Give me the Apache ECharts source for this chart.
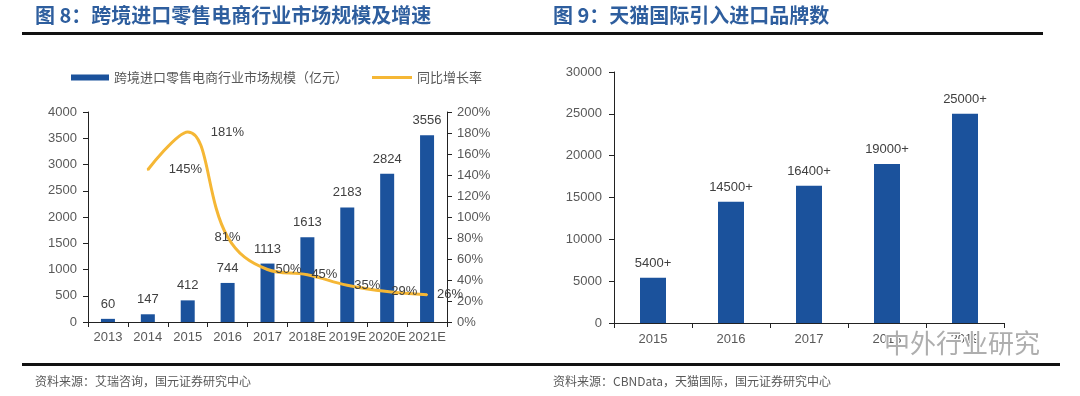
<!DOCTYPE html>
<html>
<head>
<meta charset="utf-8">
<script src="https://cdn.jsdelivr.net/npm/echarts@6/dist/echarts.min.js"></script>
<style>
  html, body { margin: 0; padding: 0; background: #fff; }
  #main { width: 1080px; height: 396px; }
</style>
</head>
<body>
<div id="main"></div>
<script>
// 图8 数据
const marketYears = ['2013', '2014', '2015', '2016', '2017', '2018E', '2019E', '2020E', '2021E'];
const marketSize = [60, 147, 412, 744, 1113, 1613, 2183, 2824, 3556];
const growthRate = [null, 145, 181, 81, 50, 45, 35, 29, 26];
// 图9 数据
const brandYears = ['2015', '2016', '2017', '2018', '2019'];
const brandCount = [5400, 14500, 16400, 19000, 25000];

const blue = '#1B529C';
const gold = '#F5B735';
const titleBlue = '#2E5E9E';
const grey = '#595959';
const numFont = '"Liberation Sans", Arial, sans-serif';
const cjkFont = '"Noto Sans CJK SC", sans-serif';

// 增长率标签与数据点的间距（样式，非数据）
const rateLabelGap = [0, 20, 22, 0, 7, 3, 6, 3, 9];

const myChart = echarts.init(document.getElementById('main'));

const axisLine = { show: true, lineStyle: { color: '#222', width: 1 } };
const axisTick = { show: true, length: 5, lineStyle: { color: '#222' } };
const axisLabel = { color: grey, fontSize: 13, fontFamily: numFont };
const plain = function (v) { return String(v); };

const option = {
  animation: false,
  backgroundColor: '#fff',
  legend: [
    {
      left: 66,
      top: 66,
      itemWidth: 38,
      itemHeight: 6,
      textStyle: { color: grey, fontSize: 13, fontFamily: cjkFont },
      data: [{ name: '跨境进口零售电商行业市场规模（亿元）', icon: 'rect' }]
    },
    {
      left: 367,
      top: 66,
      itemWidth: 40,
      itemHeight: 3,
      textStyle: { color: grey, fontSize: 13, fontFamily: cjkFont },
      data: [{ name: '同比增长率', icon: 'rect', itemStyle: { color: gold } }]
    }
  ],
  grid: [
    { left: 88, top: 112, width: 359, bottom: 74 },
    { left: 614, top: 72, width: 390, bottom: 73 }
  ],
  xAxis: [
    {
      gridIndex: 0,
      type: 'category',
      data: marketYears,
      axisLine: axisLine,
      axisTick: axisTick,
      axisLabel: Object.assign({}, axisLabel, { margin: 9, interval: 0 })
    },
    {
      gridIndex: 1,
      type: 'category',
      data: brandYears,
      axisLine: axisLine,
      axisTick: axisTick,
      axisLabel: Object.assign({}, axisLabel, { margin: 10 })
    }
  ],
  yAxis: [
    {
      gridIndex: 0,
      type: 'value',
      min: 0,
      max: 4000,
      interval: 500,
      axisLine: axisLine,
      axisTick: axisTick,
      splitLine: { show: false },
      axisLabel: Object.assign({}, axisLabel, { margin: 11, formatter: plain })
    },
    {
      gridIndex: 0,
      type: 'value',
      position: 'right',
      min: 0,
      max: 200,
      interval: 20,
      axisLine: axisLine,
      axisTick: axisTick,
      splitLine: { show: false },
      axisLabel: Object.assign({}, axisLabel, { margin: 10, formatter: '{value}%' })
    },
    {
      gridIndex: 1,
      type: 'value',
      min: 0,
      max: 30000,
      interval: 5000,
      axisLine: axisLine,
      axisTick: axisTick,
      splitLine: { show: false },
      axisLabel: Object.assign({}, axisLabel, { margin: 12, formatter: plain })
    }
  ],
  series: [
    {
      name: '跨境进口零售电商行业市场规模（亿元）',
      type: 'bar',
      xAxisIndex: 0,
      yAxisIndex: 0,
      barWidth: 14,
      itemStyle: { color: blue },
      label: {
        show: true,
        position: 'top',
        distance: 8,
        color: '#404040',
        fontSize: 13,
        fontFamily: numFont
      },
      data: marketSize
    },
    {
      name: '同比增长率',
      type: 'line',
      xAxisIndex: 0,
      yAxisIndex: 1,
      smooth: 0.4,
      symbol: 'circle',
      symbolSize: 2,
      showSymbol: true,
      z: 5,
      lineStyle: { color: gold, width: 3 },
      itemStyle: { color: gold },
      label: {
        show: true,
        position: 'right',
        color: '#404040',
        fontSize: 13,
        fontFamily: numFont,
        formatter: '{c}%'
      },
      labelLayout: { hideOverlap: false },
      data: growthRate.map(function (v, i) {
        if (i === 3) return { value: v, label: { position: 'inside', offset: [-4, 0] } };
        return { value: v, label: { distance: rateLabelGap[i] } };
      })
    },
    {
      name: '天猫国际引入进口品牌数',
      type: 'bar',
      xAxisIndex: 1,
      yAxisIndex: 2,
      barWidth: 26,
      itemStyle: { color: blue },
      label: {
        show: true,
        position: 'top',
        distance: 8,
        color: '#404040',
        fontSize: 13,
        fontFamily: numFont,
        formatter: '{c}+'
      },
      data: brandCount
    }
  ],
  graphic: [
    // 标题
    {
      type: 'text', left: 35, top: 5,
      style: { text: '图 8：跨境进口零售电商行业市场规模及增速', fill: titleBlue, font: 'bold 20px "Noto Sans CJK SC"' }
    },
    {
      type: 'text', left: 553, top: 5,
      style: { text: '图 9：天猫国际引入进口品牌数', fill: titleBlue, font: 'bold 20px "Noto Sans CJK SC"' }
    },
    // 标题下横线
    { type: 'rect', shape: { x: 22, y: 32, width: 518, height: 3 }, style: { fill: '#111' } },
    { type: 'rect', shape: { x: 540, y: 32, width: 503, height: 3 }, style: { fill: '#111' } },
    // 底部横线
    { type: 'rect', shape: { x: 22, y: 363, width: 1038, height: 3 }, style: { fill: '#111' } },
    // 资料来源
    {
      type: 'text', left: 35, top: 375,
      style: { text: '资料来源：艾瑞咨询，国元证券研究中心', fill: grey, font: '12px "Noto Sans CJK SC"' }
    },
    {
      type: 'text', left: 553, top: 375,
      style: { text: '资料来源：CBNData，天猫国际，国元证券研究中心', fill: grey, font: '12px "Noto Sans CJK SC"' }
    },
    // 水印
    {
      type: 'text', left: 883, top: 329, z: 100,
      style: {
        text: '中外行业研究', fill: 'rgba(140,140,140,0.7)', stroke: '#fff', lineWidth: 2,
        font: '26px "Noto Sans CJK SC"'
      }
    }
  ]
};

myChart.setOption(option);
</script>
</body>
</html>
